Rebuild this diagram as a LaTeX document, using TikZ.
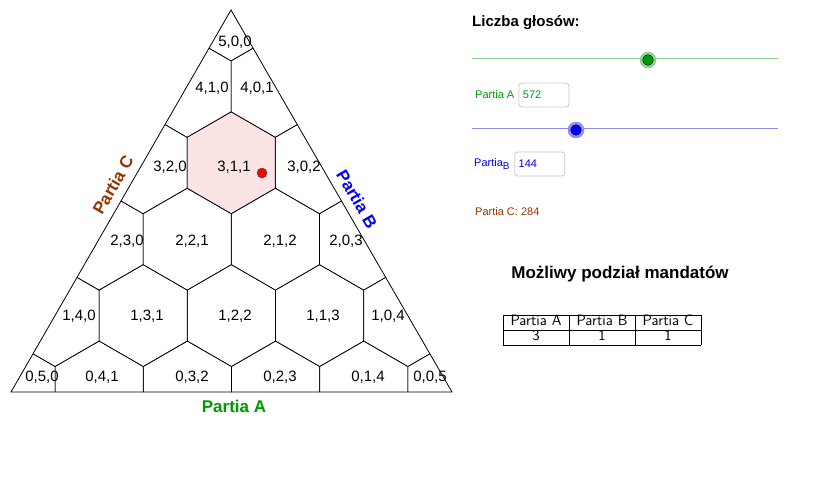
\documentclass[tikz,border=0pt]{standalone}
\usepackage{fontspec}
\setmainfont{Liberation Sans}
\usetikzlibrary{positioning}
\definecolor{ggreen}{RGB}{0,153,0}
\definecolor{gbrown}{RGB}{153,51,0}
\definecolor{gpink}{RGB}{253,228,228}
\definecolor{gbox}{RGB}{200,200,200}
\newcommand{\tcell}[1]{\makebox[60pt]{#1}}
\begin{document}
\begin{tikzpicture}[x=1pt,y=-1pt,
    cell/.style={font=\fontsize{15}{15}\selectfont,inner sep=0pt},
    axis/.style={font=\fontsize{17}{17}\selectfont\bfseries},
    knob/.style={circle,draw=black,line width=0.6pt,minimum size=11pt,inner sep=0pt},
    inbox/.style={draw=gbox,rounded corners=3pt,line width=0.8pt,minimum width=50pt,minimum height=24pt,inner sep=3pt,text width=42pt,font=\fontsize{11}{11}\selectfont},
    small/.style={font=\fontsize{11}{11}\selectfont,inner sep=0pt}]
  \useasboundingbox (0,0) rectangle (819,500);
  % triangle corners
  \coordinate (top) at (231,10);
  \coordinate (bl) at (11,392);
  \coordinate (br) at (452,392);
  % highlighted cell
  \fill[gpink] (231,162.8) ++(90:50.9) -- ++(210:50.9) -- ++(270:50.9) -- ++(330:50.9) -- ++(30:50.9) -- ++(90:50.9) -- cycle;
  % hexagonal cells clipped to the triangle
  \begin{scope}
    \clip (top) -- (bl) -- (br) -- cycle;
    \foreach \a in {0,...,5} {
      \foreach \b in {0,...,5} {
        \pgfmathtruncatemacro{\c}{5-\a-\b}
        \ifnum\c<0\relax\else
          \pgfmathsetmacro{\hx}{(231*\a+11*\b+452*\c)/5}
          \pgfmathsetmacro{\hy}{(10*\a+392*\b+392*\c)/5}
          \draw[line width=0.6pt] (\hx,\hy) ++(90:50.9) -- ++(210:50.9) -- ++(270:50.9) -- ++(330:50.9) -- ++(30:50.9) -- ++(90:50.9) -- cycle;
        \fi
      }
    }
  \end{scope}
  \draw[line width=0.8pt] (top) -- (bl) -- (br) -- cycle;
  % cell labels
  \foreach \x/\y/\t/\n in {235/42/{5,0,0}/c500,
      212/88/{4,1,0}/c410, 257/88/{4,0,1}/c401,
      170/167/{3,2,0}/c320, 234/167/{3,1,1}/c311, 304/167/{3,0,2}/c302,
      127/241/{2,3,0}/c230, 192/241/{2,2,1}/c221, 280/241/{2,1,2}/c212, 346/241/{2,0,3}/c203,
      79/316/{1,4,0}/c140, 147/316/{1,3,1}/c131, 235/316/{1,2,2}/c122, 323/316/{1,1,3}/c113, 388/316/{1,0,4}/c104,
      42/377/{0,5,0}/c050, 102/377/{0,4,1}/c041, 192/377/{0,3,2}/c032, 280/377/{0,2,3}/c023, 368/377/{0,1,4}/c014, 430/377/{0,0,5}/c005}
    \node[cell] (\n) at (\x,\y) {\t};
  \node[circle,fill=red,draw=black!70,line width=0.5pt,minimum size=10pt,inner sep=0pt] (vote) at (262,173) {};
  % axis names
  \node[axis,text=ggreen] (axA) at (234,406) {Partia A};
  \node[axis,text=blue,rotate=-60] (axB) at (357,199) {Partia B};
  \node[axis,text=gbrown,rotate=60] (axC) at (113,185) {Partia C};
  % right panel
  \node[anchor=west,font=\fontsize{15}{15}\selectfont\bfseries,inner sep=0pt] (title) at (472,23) {Liczba głosów:};
  \coordinate (sA0) at (472,59);
  \coordinate (sA1) at (778,59);
  \draw[ggreen!45,line width=1pt] (sA0) -- (sA1);
  \node[knob,fill=ggreen,line width=0.6pt] (kA) at (648,60) {};
  \draw[ggreen!45,line width=2.5pt] (kA) circle (7pt);
  \node[small,text=ggreen,anchor=west] (labA) at (475,95) {Partia A};
  \node[inbox,text=ggreen,right=4pt of labA] (boxA) {572};
  \coordinate (sB0) at (472,129);
  \coordinate (sB1) at (778,129);
  \draw[blue!45,line width=1pt] (sB0) -- (sB1);
  \node[knob,fill=blue] (kB) at (576,130) {};
  \draw[blue!45,line width=2.5pt] (kB) circle (7pt);
  \node[small,text=blue,anchor=west] (labB) at (474,164) {Partia$_{\mbox{\fontsize{10}{10}\selectfont B}}$};
  \node[inbox,text=blue,right=4pt of labB] (boxB) {144};
  \node[small,text=gbrown,anchor=west] (labC) at (475,212) {Partia C: 284};
  \node[font=\fontsize{17}{17}\selectfont\bfseries] (seats) at (620,274) {Możliwy podział mandatów};
  \node[font=\sffamily\fontsize{15}{15}\selectfont,inner sep=0pt] (tab) at (602,330) {%
    \setlength{\tabcolsep}{3pt}\renewcommand{\arraystretch}{0.9}%
    \begin{tabular}{|c|c|c|}\hline \tcell{Partia A} & \tcell{Partia B} & \tcell{Partia C}\\\hline 3 & 1 & 1\\\hline\end{tabular}};
\end{tikzpicture}
\end{document}
